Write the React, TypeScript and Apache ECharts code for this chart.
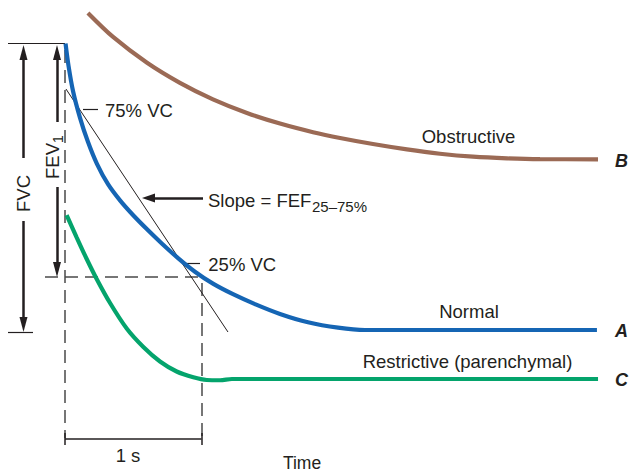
import React, { useEffect, useRef } from "react";
import * as echarts from "echarts";

// Volume–time spirogram: time in seconds, lung volume in litres
const normalTime = [0.004, 0.026, 0.059, 0.11, 0.168, 0.234, 0.315, 0.403, 0.498, 0.601, 0.711, 0.828, 0.952, 1.084, 1.231, 1.392, 1.575, 1.78, 2.0, 2.198, 3.897];
const normalVolume = [6.491, 6.099, 5.66, 5.197, 4.779, 4.395, 4.04, 3.758, 3.503, 3.254, 3.003, 2.753, 2.516, 2.308, 2.124, 1.951, 1.78, 1.634, 1.54, 1.5, 1.5];

const restrictiveTime = [0.012, 0.086, 0.159, 0.232, 0.33, 0.452, 0.574, 0.696, 0.818, 0.94, 1.038, 1.136, 1.223, 3.905];
const restrictiveVolume = [3.503, 3.111, 2.737, 2.389, 1.97, 1.526, 1.204, 0.951, 0.777, 0.676, 0.629, 0.625, 0.646, 0.646];

const obstructiveTime = [0.168, 0.352, 0.601, 0.842, 1.084, 1.333, 1.575, 1.817, 2.015, 2.256, 2.505, 2.747, 2.989, 3.238, 3.48, 3.905];
const obstructiveVolume = [7.023, 6.605, 6.155, 5.805, 5.517, 5.28, 5.096, 4.946, 4.845, 4.74, 4.646, 4.571, 4.519, 4.49, 4.476, 4.474];

// Reference levels (litres) and times (s)
const FVC_TOP = 6.5;
const RV_NORMAL = 1.5;
const FEV1_LEVEL = 2.423;
const VC75_LEVEL = 5.35;
const VC25_LEVEL = 2.667;
const ONE_SECOND = 1;
const slopeLineStart = [0.007, 5.699];
const slopeLineEnd = [1.194, 1.465];

// Layout of the drawing (pixel scale of the axes)
const W = 631;
const H = 473;
const X0_PX = 65;
const PX_PER_S = 136.5;
const Y_RV_PX = 330;
const PX_PER_L = 57.4;

const FONT = "'Liberation Sans', Arial, Helvetica, sans-serif";
const INK = "#231f20";
const BLUE = "#1565b4";
const GREEN = "#04a46c";
const BROWN = "#9b6a55";

const pair = (t: number[], v: number[]) => t.map((x, i) => [x, v[i]]);
const dt = (px: number) => px / PX_PER_S;
const dv = (px: number) => px / PX_PER_L;

function seg(a: number[], b: number[], style: any, arrowEnd = false, arrowSize: number[] = [8, 15]) {
  return [
    { coord: a, symbol: "none", lineStyle: style },
    {
      coord: b,
      symbol: arrowEnd ? "triangle" : "none",
      symbolSize: arrowSize,
      lineStyle: style,
    },
  ];
}

function txt(x: number, y: number, text: string, align: string, extra: any = {}) {
  return {
    type: "text",
    x,
    y,
    z: 100,
    silent: true,
    style: {
      text,
      fill: INK,
      fontFamily: FONT,
      fontSize: 18.5,
      align,
      textAlign: align,
      verticalAlign: "middle",
      textVerticalAlign: "middle",
      ...extra,
    },
  };
}

export default function App() {
  const ref = useRef<HTMLDivElement>(null);

  useEffect(() => {
    if (!ref.current) return;
    const chart = echarts.init(ref.current, null, { renderer: "svg" });

    const xMin = -X0_PX / PX_PER_S;
    const xMax = (W - X0_PX) / PX_PER_S;
    const yMax = RV_NORMAL + Y_RV_PX / PX_PER_L;
    const yMin = RV_NORMAL - (H - Y_RV_PX) / PX_PER_L;

    const solid = { color: INK, width: 2.5, type: "solid" };
    const thin = { color: INK, width: 1.2, type: "solid" };
    const dashed = { color: "#4a4a4a", width: 1.5, type: [13, 7] };

    const fvcT = dt(23.5 - X0_PX);
    const fev1T = dt(57 - X0_PX);
    const half = dv(7.5);
    const bracketV = yMax - dv(439);
    const dashBottom = yMax - dv(438);
    const tick = dv(6);

    const annotations = [
      // FVC double arrow with gap for label
      seg([fvcT, yMax - dv(158)], [fvcT, FVC_TOP - dv(2) - half], solid, true),
      seg([fvcT, yMax - dv(221)], [fvcT, RV_NORMAL - dv(2) + half], solid, true),
      // FEV1 double arrow
      seg([fev1T, yMax - dv(122)], [fev1T, FVC_TOP - dv(2) - half], solid, true),
      seg([fev1T, yMax - dv(187)], [fev1T, FEV1_LEVEL + half], solid, true),
      // reference ticks for FVC
      seg([xMin + dt(8), FVC_TOP], [0, FVC_TOP], thin),
      seg([xMin + dt(8), RV_NORMAL - dv(2)], [xMin + dt(33), RV_NORMAL - dv(2)], thin),
      // dashed guides
      seg([0, FVC_TOP - dv(7)], [0, dashBottom], dashed),
      seg([xMin + dt(45), FEV1_LEVEL], [ONE_SECOND, FEV1_LEVEL], dashed),
      seg([ONE_SECOND, FEV1_LEVEL - dv(6)], [ONE_SECOND, dashBottom], dashed),
      // FEF25-75 slope line
      seg(slopeLineStart, slopeLineEnd, { color: INK, width: 1, type: "solid" }),
      // leaders
      seg([dt(83 - X0_PX), VC75_LEVEL], [dt(98 - X0_PX), VC75_LEVEL], thin),
      seg([dt(185 - X0_PX), VC25_LEVEL], [dt(200 - X0_PX), VC25_LEVEL], thin),
      // slope arrow
      seg([dt(203 - X0_PX), 3.8], [dt(142 - X0_PX) + dt(6.5), 3.8], solid, true, [9, 13]),
      // 1 s bracket
      seg([0, bracketV], [ONE_SECOND, bracketV], { color: INK, width: 1.5, type: "solid" }),
      seg([0, bracketV + tick], [0, bracketV - tick], { color: INK, width: 1.5, type: "solid" }),
      seg([ONE_SECOND, bracketV + tick], [ONE_SECOND, bracketV - tick], { color: INK, width: 1.5, type: "solid" }),
    ];

    const curve = (name: string, data: number[][], color: string) => ({
      name,
      type: "line",
      data,
      smooth: 0.3,
      showSymbol: false,
      symbol: "none",
      clip: false,
      silent: true,
      lineStyle: { color, width: 4.2 },
      z: 5,
    });

    chart.setOption({
      animation: false,
      grid: { left: 0, right: 0, top: 0, bottom: 0, containLabel: false },
      xAxis: { type: "value", min: xMin, max: xMax, show: false },
      yAxis: { type: "value", min: yMin, max: yMax, show: false },
      series: [
        curve("Obstructive", pair(obstructiveTime, obstructiveVolume), BROWN),
        curve("Normal", pair(normalTime, normalVolume), BLUE),
        curve("Restrictive", pair(restrictiveTime, restrictiveVolume), GREEN),
        {
          name: "annotations",
          type: "line",
          data: [],
          silent: true,
          z: 3,
          markLine: {
            silent: true,
            animation: false,
            symbol: ["none", "none"],
            symbolSize: [8, 15],
            label: { show: false },
            emphasis: { disabled: true },
            itemStyle: { color: INK },
            data: annotations,
          },
        },
      ],
      graphic: [
        txt(468.5, 136.3, "Obstructive", "center"),
        txt(469, 311.7, "Normal", "center"),
        txt(467.5, 361.3, "Restrictive (parenchymal)", "center"),
        txt(621.5, 161, "B", "center", { fontWeight: "bold", fontStyle: "italic", fontSize: 18 }),
        txt(621.5, 331, "A", "center", { fontWeight: "bold", fontStyle: "italic", fontSize: 18 }),
        txt(621.5, 380, "C", "center", { fontWeight: "bold", fontStyle: "italic", fontSize: 18 }),
        txt(105, 110.7, "75% VC", "left"),
        txt(208, 200, "Slope = FEF", "left"),
        txt(312, 206.5, "25–75%", "left", { fontSize: 15 }),
        txt(208.3, 264, "25% VC", "left"),
        txt(128, 455, "1 s", "center"),
        txt(302, 462.5, "Time", "center", { fontSize: 17.5 }),
        {
          type: "text",
          x: 23.5,
          y: 193.5,
          rotation: Math.PI / 2,
          z: 100,
          silent: true,
          style: {
            text: "FVC",
            fill: INK,
            fontFamily: FONT,
            fontSize: 18.5,
            align: "center",
            textAlign: "center",
            verticalAlign: "middle",
            textVerticalAlign: "middle",
          },
        },
        {
          type: "group",
          x: 52.5,
          y: 157,
          rotation: Math.PI / 2,
          z: 100,
          children: [
            {
              type: "text",
              x: -22,
              y: 0,
              silent: true,
              style: {
                text: "FEV",
                fill: INK,
                fontFamily: FONT,
                fontSize: 18.5,
                align: "left",
                textAlign: "left",
                verticalAlign: "middle",
                textVerticalAlign: "middle",
              },
            },
            {
              type: "text",
              x: 14,
              y: 5,
              silent: true,
              style: {
                text: "1",
                fill: INK,
                fontFamily: FONT,
                fontSize: 14,
                align: "left",
                textAlign: "left",
                verticalAlign: "middle",
                textVerticalAlign: "middle",
              },
            },
          ],
        },
      ],
    });

    return () => chart.dispose();
  }, []);

  return (
    <div
      ref={ref}
      style={{ position: "fixed", left: 0, top: 0, width: W, height: H, background: "#ffffff" }}
    />
  );
}
